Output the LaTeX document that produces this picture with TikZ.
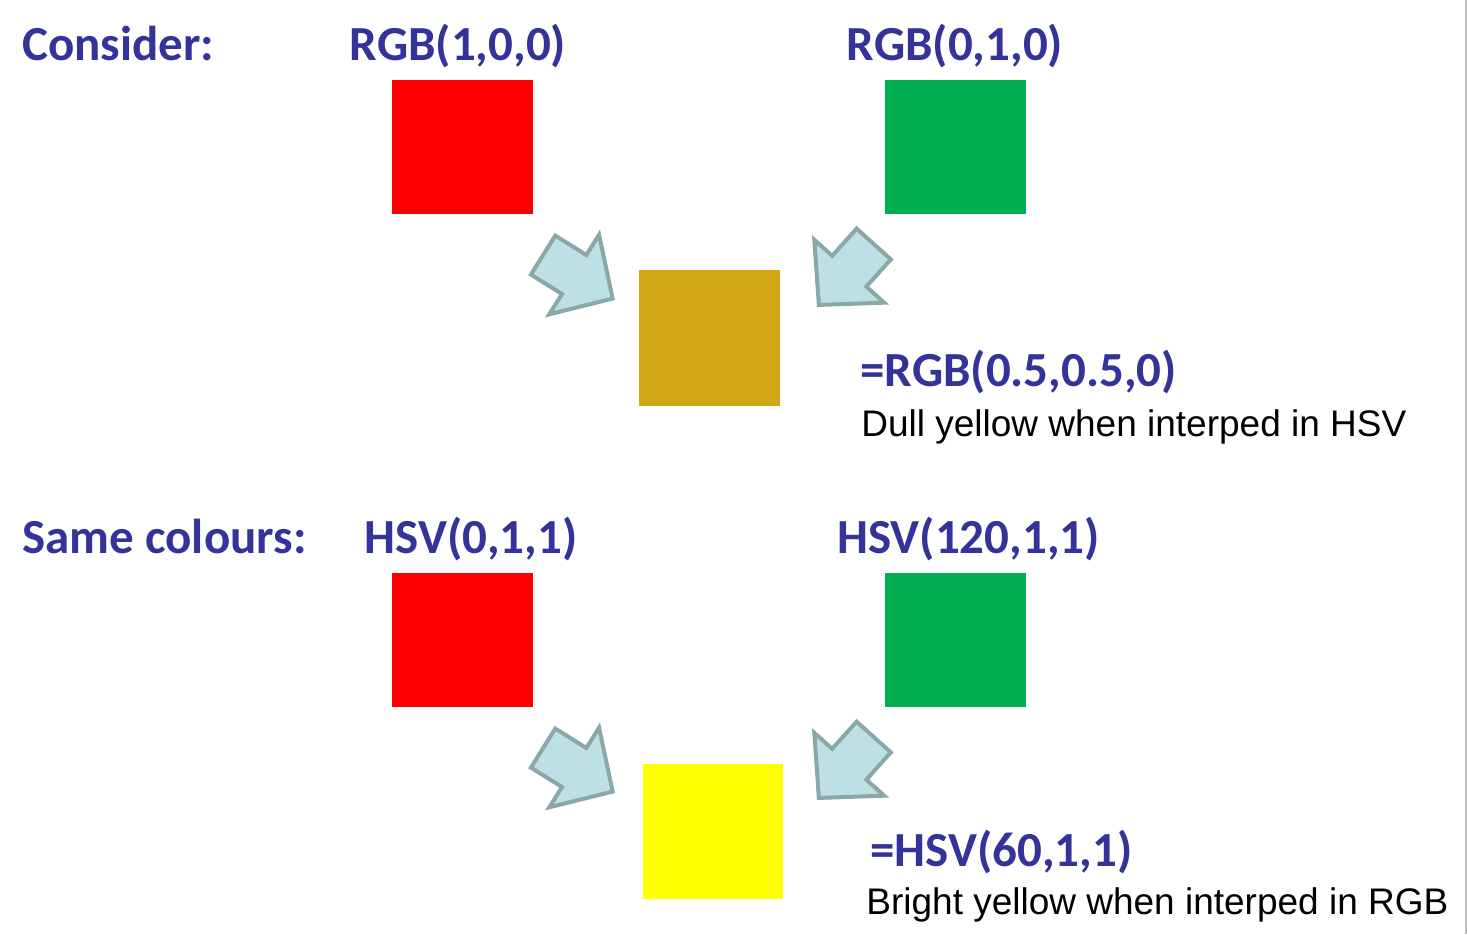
\documentclass[tikz,border=0pt]{standalone}
\usepackage{fontspec}
\setmainfont{Liberation Sans}
\newfontfamily\labelfont{Carlito}
\usetikzlibrary{shapes.arrows}
\definecolor{CLnavy}{RGB}{51,51,153}
\definecolor{CLred}{RGB}{255,0,0}
\definecolor{CLgreen}{RGB}{0,176,80}
\definecolor{CLmustard}{RGB}{209,167,21}
\definecolor{CLyellow}{RGB}{255,255,0}
\definecolor{CLarrowfill}{RGB}{189,224,228}
\definecolor{CLarrowline}{RGB}{138,168,168}
\definecolor{CLedge}{RGB}{190,190,190}
\tikzset{
  swatch/.style={draw=none,minimum width=70.5pt,minimum height=67pt,inner sep=0pt},
  heading/.style={font=\labelfont\bfseries\fontsize{24.5}{28}\selectfont,text=CLnavy,
                  inner sep=0pt,anchor=base},
  caption/.style={font=\fontsize{18.5}{22}\selectfont,text=black,inner sep=0pt,
                  anchor=base west},
  blockarrow/.style={single arrow,draw=CLarrowline,fill=CLarrowfill,line width=2pt,
                  minimum height=41pt,minimum width=0pt,inner xsep=0pt,inner ysep=10.5pt,
                  single arrow head extend=12pt,single arrow tip angle=92,
                  line join=miter,anchor=tip}
}
\begin{document}
\begin{tikzpicture}[x=0.5pt,y=-0.5pt]
  \useasboundingbox (0,0) rectangle (1467,934);
  \draw[CLedge,line width=1pt] (1466,0) -- (1466,934);
  % top row: RGB mixing
  \node[heading,anchor=base west] (consider) at (22,60) {Consider:};
  \node[heading] (rgbred) at (458,60) {RGB(1,0,0)};
  \node[heading] (rgbgreen) at (955,60) {RGB(0,1,0)};
  \node[swatch,fill=CLred] (redA) at (462.5,147) {};
  \node[swatch,fill=CLgreen] (greenA) at (955.5,147) {};
  \node[swatch,fill=CLmustard,minimum height=68pt] (mixA) at (709.5,338) {};
  \node[blockarrow,rotate=-32] (arrAL) at (615,300) {};
  \node[blockarrow,rotate=-132] (arrAR) at (817,307) {};
  \node[heading,anchor=base west] (rgbmix) at (860,386) {=RGB(0.5,0.5,0)};
  \node[caption] (dull) at (861,436) {Dull yellow when interped in HSV};
  % bottom row: HSV mixing
  \node[heading,anchor=base west] (same) at (22,553) {Same colours:};
  \node[heading] (hsvred) at (471,553) {HSV(0,1,1)};
  \node[heading] (hsvgreen) at (968.5,553) {HSV(120,1,1)};
  \node[swatch,fill=CLred] (redB) at (462.5,640) {};
  \node[swatch,fill=CLgreen] (greenB) at (955.5,640) {};
  \node[swatch,fill=CLyellow,minimum width=70pt,minimum height=67.5pt] (mixB) at (713,831.5) {};
  \node[blockarrow,rotate=-32] (arrBL) at (615,793) {};
  \node[blockarrow,rotate=-132] (arrBR) at (817,800) {};
  \node[heading,anchor=base west] (hsvmix) at (870,866) {=HSV(60,1,1)};
  \node[caption] (bright) at (866,914) {Bright yellow when interped in RGB};
\end{tikzpicture}
\end{document}
